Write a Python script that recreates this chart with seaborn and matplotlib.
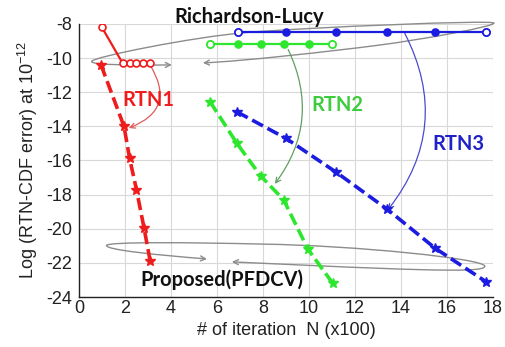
import matplotlib
matplotlib.use("Agg")
import matplotlib.pyplot as plt
import numpy as np
import pandas as pd
import seaborn as sns
from matplotlib.path import Path
from matplotlib.patches import FancyArrowPatch

# ---- data: iterations (x100) vs log error -------------------------------
# Richardson-Lucy
rl1_n = [1.0, 1.9, 2.2, 2.5, 2.8, 3.1]
rl1_err = [-8.2, -10.3, -10.3, -10.3, -10.3, -10.3]
rl2_n = [5.7, 6.9, 7.9, 8.9, 10.0, 11.0]
rl2_err = [-9.2, -9.2, -9.2, -9.2, -9.2, -9.2]
rl3_n = [6.9, 9.0, 11.2, 13.4, 15.5, 17.7]
rl3_err = [-8.5, -8.5, -8.5, -8.5, -8.5, -8.5]

# Proposed (PFDCV)
pf1_n = [0.96, 1.96, 2.2, 2.5, 2.83, 3.1]
pf1_err = [-10.4, -14.0, -15.85, -17.7, -19.95, -21.9]
pf2_n = [5.7, 6.87, 7.9, 8.9, 9.96, 11.04]
pf2_err = [-12.55, -15.0, -16.9, -18.3, -21.2, -23.2]
pf3_n = [6.87, 9.0, 11.2, 13.4, 15.5, 17.7]
pf3_err = [-13.15, -14.7, -16.7, -18.85, -21.15, -23.1]

x_ticks = list(range(0, 19, 2))
y_ticks = list(range(-24, -7, 2))

RED = "#ee1c1c"
GREEN = "#2ee62e"
BLUE = "#1c1ce0"
LOOP = "#8c8c8c"

sns.set_theme(style="whitegrid")
plt.rcParams["font.family"] = ["Liberation Sans", "DejaVu Sans"]
plt.rcParams["mathtext.fontset"] = "custom"
plt.rcParams["mathtext.rm"] = "Liberation Sans"
plt.rcParams["mathtext.it"] = "Liberation Sans:italic"

fig = plt.figure(figsize=(5.06, 3.47), dpi=100)
ax = fig.add_axes([0.156, 0.144, 0.818, 0.787])
ax.set_facecolor("white")


def draw_rl(n, err, color, open_all=False):
    df = pd.DataFrame({"n": n, "err": err})
    sns.lineplot(data=df, x="n", y="err", ax=ax, color=color, sort=False,
                 estimator=None, linewidth=1.6, marker="o", markersize=5,
                 markerfacecolor="white" if open_all else color,
                 markeredgecolor=color, markeredgewidth=1.2, zorder=4)
    if not open_all:
        ends = pd.DataFrame({"n": [n[0], n[-1]], "err": [err[0], err[-1]]})
        sns.scatterplot(data=ends, x="n", y="err", ax=ax, marker="o", s=26,
                        facecolor="white", edgecolor=color, linewidth=1.2,
                        zorder=5)


def draw_pf(n, err, color):
    df = pd.DataFrame({"n": n, "err": err})
    sns.lineplot(data=df, x="n", y="err", ax=ax, color=color, sort=False,
                 estimator=None, linewidth=2.6, linestyle="--", marker="*",
                 markersize=7, markerfacecolor=color, markeredgecolor=color,
                 markeredgewidth=1.0, zorder=4)
    ax.lines[-1].set_dashes((3.4, 1.4))


draw_rl(rl1_n, rl1_err, RED, open_all=True)
draw_rl(rl2_n, rl2_err, GREEN)
draw_rl(rl3_n, rl3_err, BLUE)
draw_pf(pf1_n, pf1_err, RED)
draw_pf(pf2_n, pf2_err, GREEN)
draw_pf(pf3_n, pf3_err, BLUE)

# ---- grouping loops around each family of curves -------------------------
C4 = Path.CURVE4
top_loop = Path(
    [(4.04, -10.4),
     (2.5, -10.42), (0.55, -10.42), (0.55, -10.2),
     (0.55, -9.95), (5.0, -8.75), (7.3, -8.5),
     (10.0, -8.2), (18.05, -7.75), (18.05, -7.95),
     (18.05, -8.15), (15.0, -8.9), (13.0, -9.25),
     (11.0, -9.6), (7.0, -10.2), (5.39, -10.28)],
    [Path.MOVETO] + [C4] * 15)
bottom_loop = Path(
    [(5.57, -21.77),
     (3.5, -21.55), (1.2, -21.25), (1.2, -20.98),
     (1.2, -20.75), (5.0, -20.8), (8.0, -20.9),
     (12.0, -20.98), (17.65, -21.75), (17.65, -22.2),
     (17.65, -22.45), (16.5, -22.45), (14.96, -22.4),
     (12.5, -22.32), (8.5, -22.05), (6.65, -21.94)],
    [Path.MOVETO] + [C4] * 15)
for loop in (top_loop, bottom_loop):
    ax.add_patch(FancyArrowPatch(path=loop, arrowstyle="<->", mutation_scale=9,
                                 color=LOOP, lw=1.0, zorder=3, clip_on=False,
                                 transform=ax.transData))

# ---- curved pointers from each RL curve to its proposed curve -------------
for start, end, rad, col in [((3.09, -10.4), (2.17, -14.1), -0.6, "#e05a5a"),
                             ((9.1, -9.5), (8.52, -17.37), -0.3, "#5f9f5f"),
                             ((14.17, -8.55), (13.43, -18.9), -0.32, "#4a4ad0")]:
    ax.annotate("", xy=end, xytext=start,
                arrowprops=dict(arrowstyle="->", color=col, lw=0.9,
                                shrinkA=0, shrinkB=0, mutation_scale=9,
                                connectionstyle=f"arc3,rad={rad}"),
                zorder=3)

bold = dict(family=["Lato", "DejaVu Sans"], fontweight="bold", fontsize=14.5,
            ha="center", va="center", zorder=6)
ax.text(3.0, -12.45, "RTN1", color=RED, **bold)
ax.text(11.24, -12.72, "RTN2", color="#3ccc3c", **bold)
ax.text(16.52, -15.06, "RTN3", color="#2020c8", **bold)
ax.text(7.4, -7.6, "Richardson-Lucy", color="#111111", clip_on=False, **bold)
ax.text(6.2, -23.0, "Proposed(PFDCV)", color="#111111", **bold)

# ---- axes styling ---------------------------------------------------------
ax.set_xlim(0, 18)
ax.set_ylim(-24, -8)
ax.set_xticks(x_ticks)
ax.set_yticks(y_ticks)
ax.set_xticklabels([str(v) for v in x_ticks])
ax.set_yticklabels([str(v) for v in y_ticks])
ax.grid(True, color="#d8d8d8", linewidth=0.8)
for side in ("top", "right"):
    ax.spines[side].set_visible(False)
for side in ("left", "bottom"):
    ax.spines[side].set_visible(True)
    ax.spines[side].set_color("#222222")
    ax.spines[side].set_linewidth(1.0)
ax.tick_params(axis="both", direction="in", length=4, width=0.8,
               color="#222222", labelsize=13, labelcolor="#222222")
ax.tick_params(axis="x", pad=2)
ax.tick_params(axis="y", pad=5)
ax.set_xlabel("# of iteration  N (x100)", fontsize=13, color="#222222",
              labelpad=4)
ax.set_ylabel(r"Log (RTN-CDF error) at 10$^{\mathregular{-12}}$",
              fontsize=13, color="#222222", labelpad=4)

fig.savefig("out.png", dpi=100, facecolor="white")
